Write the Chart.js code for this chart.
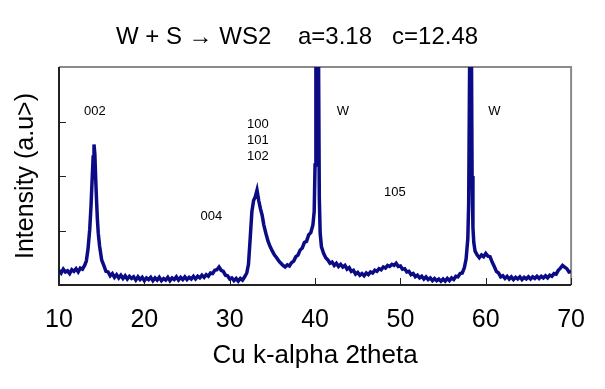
<!DOCTYPE html>
<html>
<head>
<meta charset="utf-8">
<script src="https://cdn.jsdelivr.net/npm/chart.js@4/dist/chart.umd.min.js"></script>
<style>
html,body{margin:0;padding:0;background:#ffffff;}
#wrap{width:605px;height:389px;position:relative;}
</style>
</head>
<body>
<div id="wrap"><canvas id="c" width="605" height="389"></canvas></div>
<script>
// ---- data (2theta in degrees, intensity in arbitrary units) ----
const twoTheta = [
10.00,10.25,10.50,10.75,11.00,11.25,11.50,11.75,12.00,12.25,12.50,12.75,13.00,13.20,13.40,13.60,13.75,13.90,14.00,14.10,
14.20,14.30,14.40,14.50,14.60,14.75,15.00,15.25,15.50,15.75,16.00,16.25,16.50,16.75,17.00,17.25,17.50,17.75,18.00,18.25,
18.50,18.75,19.00,19.25,19.50,19.75,20.00,20.25,20.50,20.75,21.00,21.25,21.50,21.75,22.00,22.25,22.50,22.75,23.00,23.25,
23.50,23.75,24.00,24.25,24.50,24.75,25.00,25.25,25.50,25.75,26.00,26.25,26.50,26.75,27.00,27.25,27.50,27.75,28.00,28.25,
28.50,28.75,29.00,29.25,29.50,29.75,30.00,30.25,30.50,30.75,31.00,31.25,31.50,31.75,32.00,32.20,32.40,32.60,32.80,33.00,
33.20,33.40,33.60,33.80,34.00,34.25,34.50,34.75,35.00,35.25,35.50,35.75,36.00,36.25,36.50,36.75,37.00,37.25,37.50,37.75,
38.00,38.25,38.50,38.75,39.00,39.25,39.50,39.75,39.90,40.00,40.10,40.20,40.30,40.40,40.50,40.60,40.75,41.00,41.25,41.50,
41.75,42.00,42.25,42.50,42.75,43.00,43.25,43.50,43.75,44.00,44.25,44.50,44.75,45.00,45.25,45.50,45.75,46.00,46.25,46.50,
46.75,47.00,47.25,47.50,47.75,48.00,48.25,48.50,48.75,49.00,49.25,49.50,49.75,50.00,50.25,50.50,50.75,51.00,51.25,51.50,
51.75,52.00,52.25,52.50,52.75,53.00,53.25,53.50,53.75,54.00,54.25,54.50,54.75,55.00,55.25,55.50,55.75,56.00,56.25,56.50,
56.75,57.00,57.25,57.50,57.70,57.90,58.00,58.10,58.20,58.30,58.40,58.50,58.60,58.75,59.00,59.25,59.50,59.75,60.00,60.25,
60.50,60.75,61.00,61.25,61.50,61.75,62.00,62.25,62.50,62.75,63.00,63.25,63.50,63.75,64.00,64.25,64.50,64.75,65.00,65.25,
65.50,65.75,66.00,66.25,66.50,66.75,67.00,67.25,67.50,67.75,68.00,68.25,68.50,68.75,69.00,69.25,69.50,69.75,70.00
];
const intensity = [
0.27,0.22,0.29,0.24,0.26,0.21,0.28,0.25,0.30,0.24,0.31,0.29,0.36,0.44,0.66,1.02,1.45,2.00,2.35,2.58,
2.40,1.95,1.55,1.20,0.95,0.72,0.46,0.36,0.25,0.24,0.17,0.21,0.14,0.19,0.13,0.18,0.12,0.17,0.11,0.16,
0.12,0.15,0.09,0.15,0.10,0.14,0.08,0.13,0.10,0.14,0.08,0.13,0.09,0.14,0.08,0.12,0.09,0.14,0.08,0.13,
0.10,0.15,0.09,0.14,0.10,0.15,0.10,0.14,0.11,0.16,0.11,0.16,0.13,0.18,0.14,0.19,0.16,0.22,0.21,0.27,
0.28,0.33,0.27,0.25,0.18,0.17,0.11,0.13,0.08,0.12,0.07,0.12,0.09,0.15,0.22,0.38,0.85,1.35,1.55,1.62,
1.74,1.55,1.40,1.28,1.10,0.94,0.80,0.70,0.62,0.55,0.50,0.44,0.40,0.36,0.33,0.37,0.35,0.41,0.44,0.52,
0.55,0.64,0.68,0.78,0.80,0.92,0.96,1.10,1.35,2.20,4.60,6.00,5.80,4.40,1.60,0.95,0.70,0.58,0.50,0.46,
0.40,0.42,0.36,0.40,0.34,0.38,0.33,0.36,0.29,0.32,0.25,0.27,0.20,0.23,0.18,0.21,0.17,0.22,0.19,0.24,
0.22,0.27,0.25,0.30,0.28,0.33,0.31,0.36,0.34,0.38,0.36,0.40,0.34,0.35,0.29,0.30,0.24,0.25,0.19,0.21,
0.15,0.18,0.13,0.16,0.11,0.15,0.10,0.13,0.08,0.12,0.08,0.11,0.07,0.11,0.07,0.12,0.08,0.13,0.10,0.16,
0.15,0.21,0.22,0.32,0.48,0.85,1.50,3.80,6.00,5.00,2.00,1.05,0.78,0.62,0.55,0.50,0.55,0.52,0.58,0.53,
0.52,0.42,0.34,0.25,0.22,0.15,0.17,0.12,0.16,0.11,0.15,0.10,0.14,0.11,0.15,0.10,0.14,0.11,0.15,0.11,
0.15,0.12,0.16,0.12,0.16,0.13,0.17,0.13,0.18,0.16,0.21,0.20,0.27,0.31,0.36,0.33,0.30,0.24,0.25
];
const xTickValues = [10,20,30,40,50,60,70];
const yTickValues = [1,2,3];
const peakLabels = ['002','100','101','102','004','W','105','W'];
const peakLabelX = [14.20,33.29,33.29,33.29,27.86,43.27,49.34,61.01];
const peakLabelY = [3.18,2.95,2.65,2.36,1.25,3.19,1.69,3.19];
const chartTitle = 'W + S \u2192 WS2    a=3.18   c=12.48';
const xAxisTitle = 'Cu k-alpha 2theta';
const yAxisTitle = 'Intensity (a.u>)';

const points = twoTheta.map((t, i) => ({x: t, y: intensity[i]}));

const decorPlugin = {
  id: 'decor',
  beforeDatasetsDraw(chart) {
    const {ctx, chartArea: a, scales} = chart;
    ctx.save();
    // frame
    ctx.lineWidth = 2;
    ctx.strokeStyle = '#8a8a8a';
    ctx.beginPath();
    ctx.moveTo(a.left, a.top); ctx.lineTo(a.right, a.top); ctx.lineTo(a.right, a.bottom);
    ctx.stroke();
    ctx.strokeStyle = '#222222';
    ctx.beginPath();
    ctx.moveTo(a.left, a.top); ctx.lineTo(a.left, a.bottom); ctx.lineTo(a.right, a.bottom);
    ctx.stroke();
    // inward tick marks
    ctx.lineWidth = 1;
    ctx.strokeStyle = '#222222';
    ctx.beginPath();
    yTickValues.forEach(v => {
      const py = Math.round(scales.y.getPixelForValue(v)) + 0.5;
      ctx.moveTo(a.left, py); ctx.lineTo(a.left + 7, py);
    });
    xTickValues.forEach(v => {
      const px = Math.round(scales.x.getPixelForValue(v)) + 0.5;
      ctx.moveTo(px, a.bottom); ctx.lineTo(px, a.bottom - 7);
    });
    ctx.stroke();
    ctx.restore();
  },
  afterDraw(chart) {
    const {ctx, scales} = chart;
    ctx.save();
    ctx.fillStyle = '#000000';
    ctx.textAlign = 'center';
    ctx.textBaseline = 'middle';
    ctx.font = '24px "Liberation Sans", Arial, sans-serif';
    ctx.fillText(chartTitle, 297, 37);
    ctx.font = '13px "Liberation Sans", Arial, sans-serif';
    peakLabels.forEach((t, i) => {
      ctx.fillText(t, scales.x.getPixelForValue(peakLabelX[i]), scales.y.getPixelForValue(peakLabelY[i]));
    });
    ctx.restore();
  }
};

new Chart(document.getElementById('c'), {
  type: 'line',
  data: {
    datasets: [{
      data: points,
      borderColor: '#0b0b85',
      borderWidth: 3.5,
      pointRadius: 0,
      tension: 0,
      fill: false,
      clip: 0
    }]
  },
  options: {
    responsive: false,
    devicePixelRatio: 1,
    animation: false,
    events: [],
    layout: {padding: {top: 67, right: 32, bottom: 0, left: 0}},
    plugins: {legend: {display: false}, tooltip: {enabled: false}, title: {display: false}},
    scales: {
      x: {
        type: 'linear',
        min: 10, max: 70,
        afterBuildTicks: s => { s.ticks = xTickValues.map(v => ({value: v})); },
        afterFit: s => { s.height = 104; },
        grid: {display: false, drawTicks: false},
        border: {display: false},
        ticks: {color: '#000', font: {family: '"Liberation Sans", Arial, sans-serif', size: 25}, padding: 20, maxRotation: 0, autoSkip: false},
        title: {display: true, text: xAxisTitle, color: '#000', font: {family: '"Liberation Sans", Arial, sans-serif', size: 26}, padding: {top: 0, bottom: 18}}
      },
      y: {
        type: 'linear',
        min: 0, max: 4,
        afterFit: s => { s.width = 59; },
        grid: {display: false, drawTicks: false},
        border: {display: false},
        ticks: {display: false},
        title: {display: true, text: yAxisTitle, color: '#000', font: {family: '"Liberation Sans", Arial, sans-serif', size: 25}, padding: {top: 11, bottom: 0}}
      }
    }
  },
  plugins: [decorPlugin]
});
</script>
</body>
</html>
